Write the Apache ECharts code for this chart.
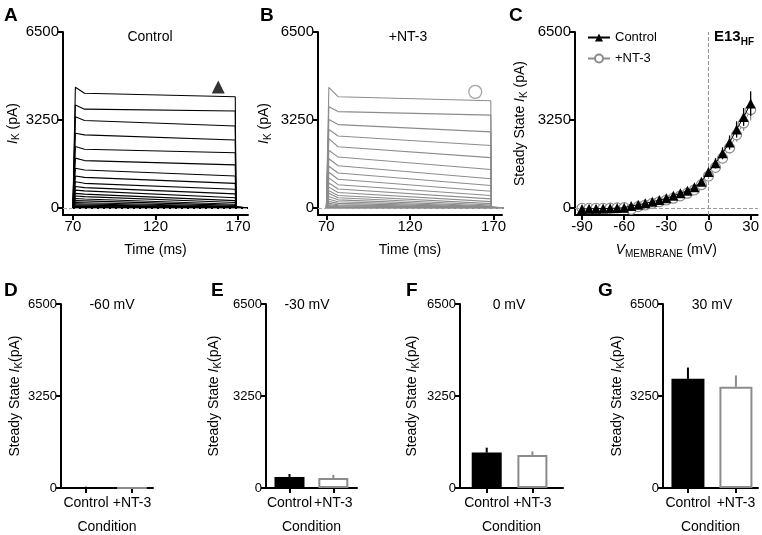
<!DOCTYPE html>
<html><head><meta charset="utf-8">
<script src="https://cdn.jsdelivr.net/npm/echarts@6/dist/echarts.min.js"></script>
<style>html,body{margin:0;padding:0;background:#fff}#c{width:762px;height:535px}</style>
</head><body><div id="c"></div>
<script>
// ---------------- DATA ----------------
// Panel C: steady-state I-V
const voltages = [-90,-85,-80,-75,-70,-65,-60,-55,-50,-45,-40,-35,-30,-25,-20,-15,-10,-5,0,5,10,15,20,25,30];
const ivControl = [-35,-30,-25,-20,-15,-5,5,75,115,170,230,290,355,450,540,640,765,970,1330,1650,2020,2420,2900,3360,3860];
const ivControlErr = [20,20,20,20,20,20,20,30,40,45,50,55,60,70,80,95,110,130,160,190,220,260,300,330,450];
const ivNT3 = [-10,-10,-10,-10,-5,0,10,-50,50,110,170,230,295,360,445,545,670,860,1180,1500,1840,2220,2700,3140,3630];
const ivNT3Err = [15,15,15,15,15,15,15,25,30,35,40,45,50,60,70,80,95,110,130,150,180,210,250,290,400];

// Panels A/B: example current traces (one per voltage step)
const traceTimes = [70, 71.5, 77, 168.3, 168.7, 176];
const tracesAPeak = [4460,3800,3370,2760,2270,1840,1470,1180,970,790,660,540,440,350,270,200,150,110,75,50,30,15,5,0,-5];
const tracesAMid  = [4240,3650,3230,2700,2170,1750,1400,1130,910,750,630,510,420,330,260,195,145,105,72,48,28,14,5,0,-5];
const tracesAEnd  = [4110,3580,3030,2510,2040,1590,1180,910,690,520,380,270,200,135,95,65,45,30,20,10,5,0,-5,-10,-15];
const tracesBPeak = [4455,3740,3270,2900,2560,2130,1820,1540,1320,1110,920,770,640,545,420,320,240,170,120,80,50,30,15,5,0];
const tracesBMid  = [4110,3560,3080,2660,2260,1880,1560,1290,1060,860,700,570,460,380,300,230,170,120,85,55,35,20,10,3,0];
const tracesBEnd  = [3960,3430,2810,2310,1860,1420,1080,830,620,460,335,235,160,110,75,50,32,20,12,6,3,0,-3,-5,-8];
const markerA = [158, 4470];
const markerB = [159, 4290];

// Panels D-G: steady-state current at single voltages
const conditions = ['Control', '+NT-3'];
const barVoltages = ['-60 mV', '-30 mV', '0 mV', '30 mV'];
const barControl = [30, 390, 1250, 3855];
const barControlErr = [15, 105, 175, 400];
const barNT3 = [8, 350, 1165, 3575];
const barNT3Err = [10, 115, 130, 400];

const yTicks = [0, 3250, 6500];
const timeTicks = [70, 120, 170];
const voltTicks = [-90, -60, -30, 0, 30];

// ---------------- CHART ----------------
const FONT = '"Liberation Sans", Arial, Helvetica, sans-serif';
const GRAY = '#8c8c8c';
const chart = echarts.init(document.getElementById('c'), null, {renderer: 'canvas'});

const grids = [
  {left: 63,  top: 32,  width: 185, height: 183},  // A
  {left: 318, top: 32,  width: 184, height: 183},  // B
  {left: 575, top: 32,  width: 183, height: 183},  // C
  {left: 61,  top: 304, width: 92,  height: 184},  // D
  {left: 266, top: 304, width: 91,  height: 184},  // E
  {left: 460, top: 304, width: 103, height: 184},  // F
  {left: 663, top: 304, width: 95,  height: 184}   // G
];

const nameRich = {
  t: {fontSize: 14, fontFamily: FONT, color: '#000', lineHeight: 18, verticalAlign: 'middle'},
  i: {fontSize: 14, fontFamily: FONT, color: '#000', fontStyle: 'italic', lineHeight: 18, verticalAlign: 'middle'},
  s: {fontSize: 10, fontFamily: FONT, color: '#000', lineHeight: 18, verticalAlign: 'bottom'}
};
const plainFmt = v => String(v);

function axBase(grid, min, max, ticks, fs, margin) {
  return {
    gridIndex: grid, type: 'value', min: min, max: max,
    axisLine: {show: true, onZero: false, lineStyle: {color: '#000', width: 2}},
    axisTick: {show: true, length: 5, lineStyle: {color: '#000', width: 2}, customValues: ticks},
    axisLabel: {customValues: ticks, fontSize: fs, color: '#000', fontFamily: FONT, margin: margin, formatter: plainFmt},
    splitLine: {show: false}
  };
}
function yAx(grid, min, fs, name, gap) {
  const a = axBase(grid, min, 6500, yTicks, fs, 4);
  a.name = name; a.nameLocation = 'middle'; a.nameGap = gap;
  a.nameTextStyle = {rich: nameRich};
  return a;
}
function xAx(grid, min, max, ticks, fs, name, gap, fmt, margin) {
  const a = axBase(grid, min, max, ticks, fs, margin);
  a.name = name; a.nameLocation = 'middle'; a.nameGap = gap;
  a.nameTextStyle = {rich: nameRich, fontSize: 14, fontFamily: FONT, color: '#000'};
  if (fmt) a.axisLabel.formatter = fmt;
  return a;
}

const condFmt = v => conditions[Math.round(v)];
const xAxes = [
  xAx(0, 64, 176, timeTicks, 15, '{t|Time (ms)}', 26, null, 4),
  xAx(1, 65, 175, timeTicks, 15, '{t|Time (ms)}', 26, null, 4),
  xAx(2, -95, 35, voltTicks, 15, '{i|V}{s|MEMBRANE}{t| (mV)}', 26, null, 4),
  xAx(3, -0.543, 1.457, [0, 1], 14, '{t|Condition}', 30, condFmt, 8),
  xAx(4, -0.536, 1.54, [0, 1], 14, '{t|Condition}', 30, condFmt, 8),
  xAx(5, -0.585, 1.67, [0, 1], 14, '{t|Condition}', 30, condFmt, 8),
  xAx(6, -0.52, 1.46, [0, 1], 14, '{t|Condition}', 30, condFmt, 8)
];
const yAxes = [
  yAx(0, -260, 15, '{i|I}{s|K}{t| (pA)}', 38),
  yAx(1, -260, 15, '{i|I}{s|K}{t| (pA)}', 45),
  yAx(2, -260, 15, '{t|Steady State }{i|I}{s|K}{t| (pA)}', 46),
  yAx(3, 0, 13, '{t|Steady State }{i|I}{s|K}{t|(pA)}', 37),
  yAx(4, 0, 13, '{t|Steady State }{i|I}{s|K}{t|(pA)}', 43),
  yAx(5, 0, 13, '{t|Steady State }{i|I}{s|K}{t|(pA)}', 39),
  yAx(6, 0, 13, '{t|Steady State }{i|I}{s|K}{t|(pA)}', 36)
];

const series = [];
function traces(peak, mid, end, idx, color) {
  peak.forEach((p, i) => {
    const vals = [0, p, mid[i], end[i], 0, 0];
    series.push({
      type: 'line', xAxisIndex: idx, yAxisIndex: idx, symbol: 'none', silent: true,
      lineStyle: {color: color, width: 1.1},
      data: traceTimes.map((t, k) => [t, vals[k]]),
      markLine: i === 0 ? {silent: true, symbol: 'none', label: {show: false},
        lineStyle: {type: 'dashed', color: '#aaa', width: 1}, data: [{yAxis: 0}]} : undefined
    });
  });
}
traces(tracesAPeak, tracesAMid, tracesAEnd, 0, '#000');
traces(tracesBPeak, tracesBMid, tracesBEnd, 1, GRAY);
series.push({type: 'scatter', xAxisIndex: 0, yAxisIndex: 0, symbol: 'triangle', symbolSize: 13,
  itemStyle: {color: '#000'}, data: [markerA], z: 5});
series.push({type: 'scatter', xAxisIndex: 1, yAxisIndex: 1, symbol: 'circle', symbolSize: 13,
  itemStyle: {color: '#fff', borderColor: GRAY, borderWidth: 1.3}, data: [markerB], z: 5});

// Panel C
function ivErr(vals, errs, color, z) {
  return {type: 'custom', xAxisIndex: 2, yAxisIndex: 2, silent: true, z: z,
    data: voltages.map((v, i) => [v, vals[i], errs[i]]),
    renderItem: (params, api) => {
      const a = api.coord([api.value(0), api.value(1) - api.value(2)]);
      const b = api.coord([api.value(0), api.value(1) + api.value(2)]);
      return {type: 'line', shape: {x1: a[0], y1: a[1], x2: b[0], y2: b[1]},
        style: {stroke: color, lineWidth: 1.3}};
    }};
}
series.push(ivErr(ivNT3, ivNT3Err, GRAY, 2));
series.push({
  name: '+NT-3', type: 'line', xAxisIndex: 2, yAxisIndex: 2, z: 3,
  data: voltages.map((v, i) => [v, ivNT3[i]]),
  symbol: 'circle', symbolSize: 10,
  lineStyle: {color: GRAY, width: 1},
  itemStyle: {color: '#fff', borderColor: GRAY, borderWidth: 1.2},
  markLine: {silent: true, symbol: 'none', label: {show: false},
    lineStyle: {type: 'dashed', color: '#999', width: 1}, data: [{xAxis: 0}, {yAxis: 0}]}
});
series.push(ivErr(ivControl, ivControlErr, '#000', 4));
series.push({
  name: 'Control', type: 'line', xAxisIndex: 2, yAxisIndex: 2, z: 5,
  data: voltages.map((v, i) => [v, ivControl[i]]),
  symbol: 'triangle', symbolSize: 10,
  lineStyle: {color: '#000', width: 1},
  itemStyle: {color: '#000'}
});

// Panels D-G
const barWidths = [30, 30, 30, 33];
barVoltages.forEach((lab, k) => {
  const g = 3 + k;
  series.push({
    type: 'bar', xAxisIndex: g, yAxisIndex: g, barWidth: barWidths[k], silent: true,
    data: [
      {value: [0, barControl[k]], itemStyle: {color: '#000'}},
      {value: [1, barNT3[k]], itemStyle: {color: '#fff', borderColor: GRAY, borderWidth: 2}}
    ]
  });
  series.push({
    type: 'custom', xAxisIndex: g, yAxisIndex: g, silent: true, z: 3,
    data: [[0, barControl[k], barControlErr[k]], [1, barNT3[k], barNT3Err[k]]],
    renderItem: (params, api) => {
      const a = api.coord([api.value(0), api.value(1)]);
      const b = api.coord([api.value(0), api.value(1) + api.value(2)]);
      return {type: 'line', shape: {x1: a[0], y1: a[1], x2: b[0], y2: b[1]},
        style: {stroke: params.dataIndex === 0 ? '#000' : GRAY, lineWidth: 2}};
    }
  });
});

function txt(x, y, s, opts) {
  return Object.assign({type: 'text', x: x, y: y, silent: true,
    style: Object.assign({text: s, fontFamily: FONT, fill: '#000', fontSize: 14}, opts || {})});
}
const letterStyle = {fontSize: 19, fontWeight: 'bold', textVerticalAlign: 'top'};
const titleStyle = {fontSize: 14, align: 'center', verticalAlign: 'middle'};
const graphics = [
  txt(4, 6, 'A', letterStyle), txt(260, 6, 'B', letterStyle), txt(509, 6, 'C', letterStyle),
  txt(4, 281, 'D', letterStyle), txt(211, 281, 'E', letterStyle), txt(406, 281, 'F', letterStyle), txt(598, 281, 'G', letterStyle),
  txt(150, 37, 'Control', titleStyle), txt(408, 37, '+NT-3', titleStyle),
  txt(112, 305, barVoltages[0], titleStyle), txt(307, 305, barVoltages[1], titleStyle),
  txt(509, 305, barVoltages[2], titleStyle), txt(712, 305, barVoltages[3], titleStyle),
  {type: 'text', x: 714, y: 37, silent: true, style: {
    text: '{b|E13}{s|HF}', verticalAlign: 'middle',
    rich: {b: {fontSize: 15, fontWeight: 'bold', fontFamily: FONT, fill: '#000', lineHeight: 20, verticalAlign: 'middle'},
           s: {fontSize: 10, fontWeight: 'bold', fontFamily: FONT, fill: '#000', lineHeight: 20, verticalAlign: 'bottom'}}}}
];

chart.setOption({
  animation: false,
  backgroundColor: '#fff',
  grid: grids,
  xAxis: xAxes,
  yAxis: yAxes,
  legend: {
    data: ['Control', '+NT-3'], orient: 'vertical', left: 582, top: 26, itemGap: 8,
    itemWidth: 22, itemHeight: 10, textStyle: {fontSize: 13, fontFamily: FONT, color: '#000'},
    selectedMode: false
  },
  series: series,
  graphic: graphics
});
</script>
</body></html>
